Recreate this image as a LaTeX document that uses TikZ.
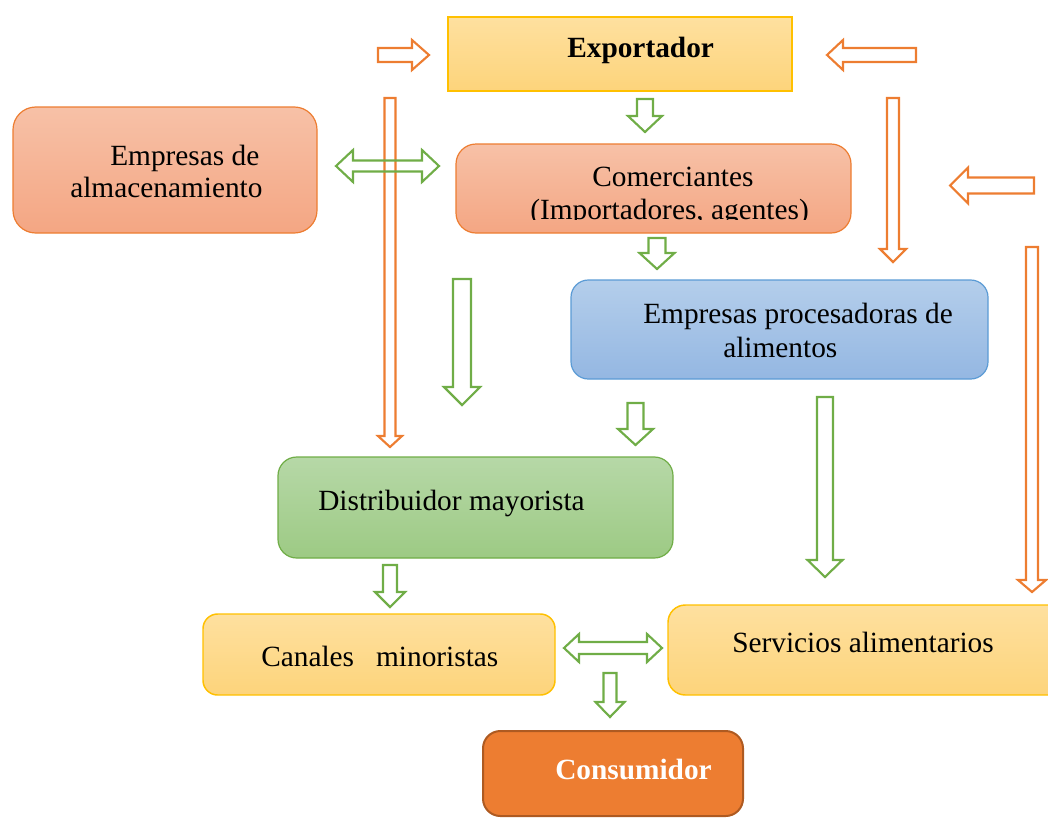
\documentclass[tikz,border=0pt]{standalone}
\usepackage{fontspec}
\setmainfont{Liberation Serif}
\usetikzlibrary{fit}

\definecolor{naranja}{HTML}{ED7D31}
\definecolor{verde}{HTML}{70AD47}
\definecolor{oro}{HTML}{FFC000}
\definecolor{azul}{HTML}{5B9BD5}
\definecolor{amarilloA}{HTML}{FEE09F}
\definecolor{amarilloB}{HTML}{FDD47B}
\definecolor{salmonA}{HTML}{F7C1A7}
\definecolor{salmonB}{HTML}{F4A683}
\definecolor{azulA}{HTML}{B4CEEB}
\definecolor{azulB}{HTML}{94B7E2}
\definecolor{verdeA}{HTML}{B6D8A7}
\definecolor{verdeB}{HTML}{9DCA84}
\definecolor{marron}{HTML}{AE5A21}

% block arrow: style, tail, angle, length, shaft half width, head half width, head length
\newcommand{\blockarrow}[7]{%
  \draw[#1,shift={#2},rotate=#3] (0,-#5) -- ({#4-#7},-#5) -- ({#4-#7},-#6) -- (#4,0)
    -- ({#4-#7},#6) -- ({#4-#7},#5) -- (0,#5) -- cycle;}
% double block arrow: style, left tip, length, shaft half width, head half width, head length
\newcommand{\dblarrow}[6]{%
  \draw[#1,shift={#2}] (0,0) -- (#6,-#5) -- (#6,-#4) -- ({#3-#6},-#4) -- ({#3-#6},-#5) -- (#3,0)
    -- ({#3-#6},#5) -- ({#3-#6},#4) -- (#6,#4) -- (#6,#5) -- cycle;}

\begin{document}
\begin{tikzpicture}[x=0.75pt,y=-0.75pt,
    txt/.style={font=\fontsize{22}{24}\selectfont,inner sep=0,anchor=base west},
    amarillo/.style={draw=oro,line width=1.1pt,top color=amarilloA,bottom color=amarilloB,inner sep=0},
    salmon/.style={draw=naranja,line width=0.9pt,top color=salmonA,bottom color=salmonB,inner sep=0,rounded corners=15pt},
    celeste/.style={draw=azul,line width=0.9pt,top color=azulA,bottom color=azulB,inner sep=0,rounded corners=13pt},
    pasto/.style={draw=verde,line width=0.9pt,top color=verdeA,bottom color=verdeB,inner sep=0,rounded corners=14pt},
    flechaN/.style={draw=naranja,line width=1.6pt},
    flechaV/.style={draw=verde,line width=1.6pt}]

  \clip (0,0) rectangle (1048,818);

  \node[amarillo,fit={(448,17) (792,91)}] (export) {};
  \node[salmon,fit={(13,107) (317,233)},rounded corners=17pt] (almacen) {};
  \node[salmon,fit={(456,144) (851,233)}] (comerc) {};
  \node[celeste,fit={(571,280) (988,379)}] (proces) {};
  \node[pasto,fit={(278,457) (673,558)}] (mayor) {};
  \node[amarillo,fit={(203,614) (555,695)},rounded corners=11pt] (minor) {};
  \node[amarillo,fit={(668,605) (1070,695)},rounded corners=13pt] (servic) {};
  \node[fit={(483,731) (743,816)},inner sep=0,fill=naranja,draw=marron,line width=1.5pt,rounded corners=13pt] (consum) {};

  \node[txt,font=\fontsize{22}{24}\selectfont\bfseries] (exportT) at (567,57) {Exportador};
  \node[txt] (almacenT) at (110,165) {Empresas de};
  \node[txt] (almacenT2) at (70,197) {almacenamiento};
  \node[txt] (comercT) at (592,186) {Comerciantes};
  \begin{scope}
    \clip (456,144) rectangle (851,219.5);
    \node[txt] (comercT2) at (530,219) {(Importadores, agentes)};
  \end{scope}
  \node[txt] (procesT) at (643,323) {Empresas procesadoras de};
  \node[txt] (procesT2) at (723,357) {alimentos};
  \node[txt] (mayorT) at (318,510) {Distribuidor mayorista};
  \node[txt] (minorT) at (261,666) {Canales\ \ \ minoristas};
  \node[txt] (servicT) at (732,652) {Servicios alimentarios};
  \node[txt,font=\fontsize{22}{24}\selectfont\bfseries,text=white] (consumT) at (555,779) {Consumidor};

  % orange flows
  \blockarrow{flechaN}{(378,55)}{0}{51}{7}{15}{17}
  \blockarrow{flechaN}{(916,55)}{180}{89}{7}{15}{16}
  \blockarrow{flechaN}{(1034,185.5)}{180}{84}{8}{18}{18}
  \blockarrow{flechaN}{(893,98)}{-90}{164}{6}{13}{13}
  \blockarrow{flechaN}{(390,98)}{-90}{349}{5.5}{12}{11}
  \blockarrow{flechaN}{(1032,247)}{-90}{345}{6}{14}{12}

  % green flows
  \blockarrow{flechaV}{(645,99)}{-90}{33}{8}{17}{16}
  \blockarrow{flechaV}{(657,238)}{-90}{31}{8.5}{17.5}{16}
  \blockarrow{flechaV}{(462,279)}{-90}{126}{9}{18}{18}
  \blockarrow{flechaV}{(635.5,403)}{-90}{42}{8}{17.5}{16}
  \blockarrow{flechaV}{(825,397)}{-90}{180}{8}{17.5}{17}
  \blockarrow{flechaV}{(390,565)}{-90}{42}{7}{15}{15}
  \blockarrow{flechaV}{(610,673)}{-90}{44}{6.5}{14.5}{15}
  \dblarrow{flechaV}{(336,166)}{103}{5.5}{16}{17}
  \dblarrow{flechaV}{(564,648)}{98}{6}{14}{15}

\end{tikzpicture}
\end{document}
